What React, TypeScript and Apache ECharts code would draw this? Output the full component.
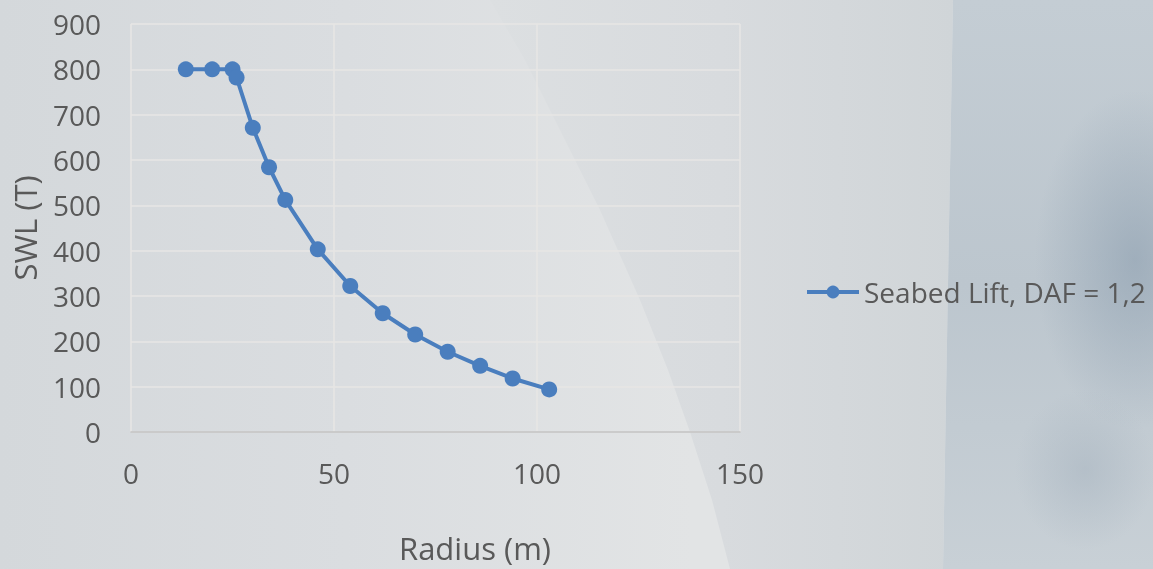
import React, { useEffect, useRef } from "react";
import * as echarts from "echarts";

const radius = [13.5, 20, 25, 26, 30, 34, 38, 46, 54, 62, 70, 78, 86, 94, 103];
const swl = [800, 800, 800, 782, 671, 584, 512, 403, 322, 262, 215, 177, 146, 118, 94];
const seriesName = "Seabed Lift, DAF = 1,2";
const xTitle = "Radius (m)";
const yTitle = "SWL (T)";

export default function App() {
  const ref = useRef<HTMLDivElement>(null);
  useEffect(() => {
    const chart = echarts.init(ref.current!, undefined, { renderer: "svg" });
    const font = "'Open Sans', sans-serif";
    const textColor = "#595959";
    const bandEdge = [
      [490, 0], [525, 60], [555, 120], [600, 210], [640, 300],
      [668, 370], [690, 432], [712, 500], [730, 569],
    ];
    chart.setOption({
      animation: false,
      backgroundColor: "transparent",
      graphic: [
        {
          type: "rect",
          z: -100,
          silent: true,
          shape: { x: 0, y: 0, width: 1153, height: 569 },
          style: {
            fill: new echarts.graphic.LinearGradient(0, 0, 1, 0, [
              { offset: 0, color: "#d4d8db" },
              { offset: 0.3, color: "#dadde0" },
              { offset: 0.6, color: "#e2e4e5" },
              { offset: 1, color: "#e2e4e5" },
            ]),
          },
        },
        {
          type: "polygon",
          z: -99,
          silent: true,
          shape: { points: [...bandEdge, [943, 569], [953, 0]] },
          style: {
            fill: new echarts.graphic.LinearGradient(0, 0, 1, 0, [
              { offset: 0, color: "#dcdfe1" },
              { offset: 0.5, color: "#d8dbde" },
              { offset: 1, color: "#d0d5d8" },
            ]),
          },
        },
        {
          type: "polygon",
          z: -98,
          silent: true,
          shape: { points: [[953, 0], [1153, 0], [1153, 569], [943, 569]] },
          style: {
            fill: new echarts.graphic.LinearGradient(0, 0, 0, 1, [
              { offset: 0, color: "#c4cdd4" },
              { offset: 0.5, color: "#bcc6ce" },
              { offset: 1, color: "#c8d0d6" },
            ]),
          },
        },
        {
          type: "ellipse",
          z: -97,
          silent: true,
          shape: { cx: 1135, cy: 260, rx: 100, ry: 170 },
          style: {
            fill: new echarts.graphic.RadialGradient(0.5, 0.5, 0.5, [
              { offset: 0, color: "rgba(140,158,175,0.6)" },
              { offset: 1, color: "rgba(140,158,175,0)" },
            ]),
          },
        },
        {
          type: "ellipse",
          z: -97,
          silent: true,
          shape: { cx: 1085, cy: 470, rx: 70, ry: 80 },
          style: {
            fill: new echarts.graphic.RadialGradient(0.5, 0.5, 0.5, [
              { offset: 0, color: "rgba(165,178,190,0.5)" },
              { offset: 1, color: "rgba(165,178,190,0)" },
            ]),
          },
        },
        {
          type: "text",
          left: 399,
          top: 532,
          style: { text: xTitle, font: `31px ${font}`, fill: textColor },
        },
      ],
      grid: { left: 131, right: 413, top: 24, bottom: 137, containLabel: false },
      legend: {
        show: true,
        left: 800,
        top: 273,
        orient: "vertical",
        itemWidth: 52,
        itemHeight: 16,
        lineStyle: { width: 4 },
        textStyle: { color: textColor, fontFamily: font, fontSize: 28 },
        data: [seriesName],
      },
      xAxis: {
        type: "value",
        min: 0,
        max: 150,
        interval: 50,
        axisLine: { show: true, lineStyle: { color: "#c2c2c2", width: 1.5 } },
        axisTick: { show: false },
        axisLabel: { color: textColor, fontFamily: font, fontSize: 28, margin: 27 },
        splitLine: { show: true, lineStyle: { color: "#e7e6e4", width: 1.5 } },
      },
      yAxis: {
        type: "value",
        min: 0,
        max: 900,
        interval: 100,
        name: yTitle,
        nameLocation: "middle",
        nameGap: 91,
        nameTextStyle: { color: textColor, fontFamily: font, fontSize: 31 },
        axisLine: { show: false },
        axisTick: { show: false },
        axisLabel: { color: textColor, fontFamily: font, fontSize: 28, margin: 30 },
        splitLine: { show: true, lineStyle: { color: "#e7e6e4", width: 1.5 } },
      },
      series: [
        {
          name: seriesName,
          type: "line",
          data: radius.map((r, i) => [r, swl[i]]),
          symbol: "circle",
          symbolSize: 16,
          showAllSymbol: true,
          itemStyle: { color: "#4a7ebe" },
          lineStyle: { color: "#4a7ebe", width: 4 },
        },
      ],
    });
    return () => chart.dispose();
  }, []);
  return (
    <div
      ref={ref}
      style={{ position: "fixed", left: 0, top: 0, width: 1153, height: 569 }}
    />
  );
}
